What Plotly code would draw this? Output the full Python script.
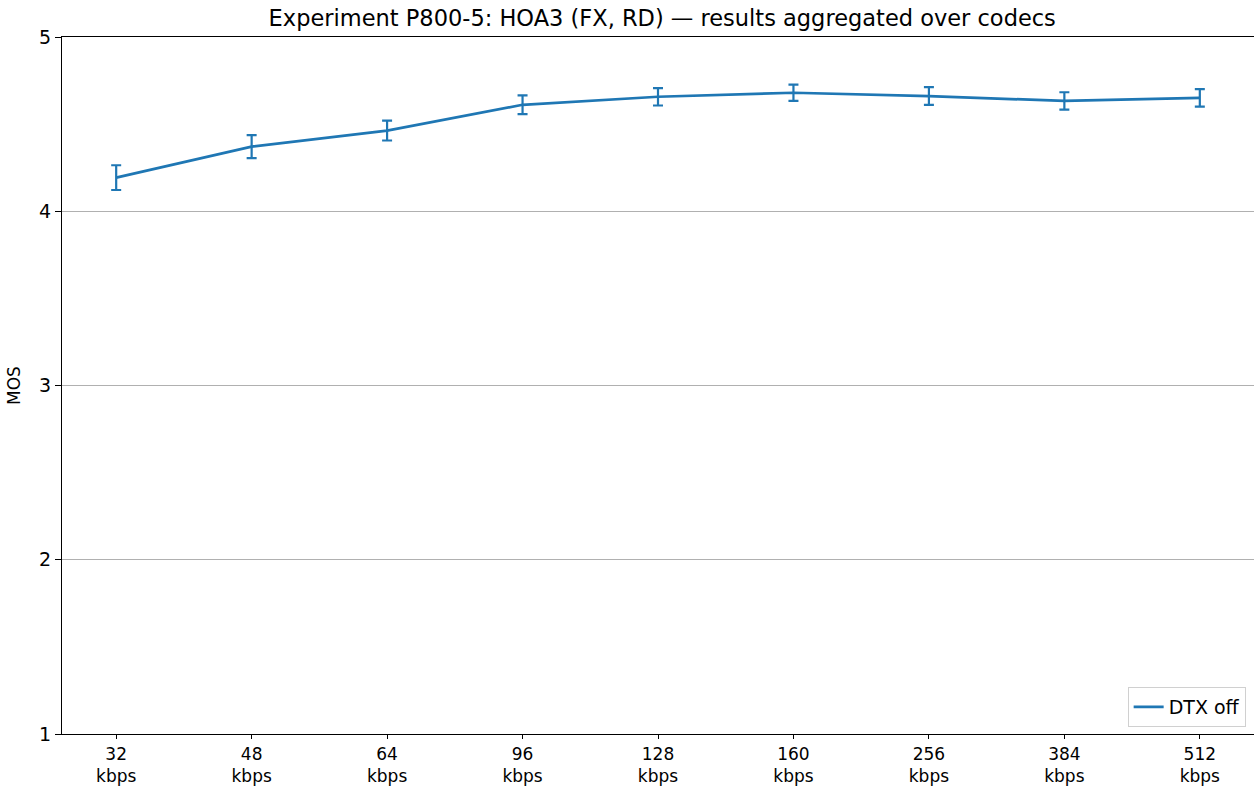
import plotly.graph_objects as go

bitrates = ["32", "48", "64", "96", "128", "160", "256", "384", "512"]
mos = [4.193, 4.371, 4.463, 4.611, 4.657, 4.680, 4.661, 4.633, 4.651]
ci95 = [0.071, 0.066, 0.057, 0.054, 0.050, 0.047, 0.051, 0.050, 0.050]
y_ticks = [1, 2, 3, 4, 5]

tick_labels = [f"{b}<br>kbps" for b in bitrates]
xpos = list(range(len(bitrates)))

BLUE = "#1f77b4"
FONT = "DejaVu Sans"

fig = go.Figure()
fig.add_trace(go.Scatter(
    x=xpos, y=mos, mode="lines", name="DTX off",
    line=dict(color=BLUE, width=2.7),
    error_y=dict(type="data", array=ci95, visible=True, color=BLUE, thickness=2.2, width=5),
))

fig.update_layout(
    width=1254, height=789,
    margin=dict(l=62, r=0, t=37, b=55),
    paper_bgcolor="white", plot_bgcolor="white",
    font=dict(family=FONT, size=18, color="black"),
    title=dict(text="Experiment P800-5: HOA3 (FX, RD) — results aggregated over codecs",
               x=0.5281, xanchor="center", y=0.977, yanchor="middle",
               font=dict(family=FONT, size=22.5, color="black")),
    showlegend=True,
    legend=dict(x=0.993, y=0.01, xanchor="right", yanchor="bottom",
                bgcolor="rgba(255,255,255,0.8)", bordercolor="#d0d0d0", borderwidth=1,
                font=dict(family=FONT, size=19)),
)
fig.update_xaxes(
    range=[-0.4, 8.4], tickvals=xpos, ticktext=tick_labels,
    showgrid=False, zeroline=False, automargin=False,
    showline=True, linecolor="black", linewidth=1.3, mirror=True,
    ticks="outside", ticklen=4, tickcolor="black", tickwidth=1.3,
    tickfont=dict(family=FONT, size=17),
)
fig.update_yaxes(
    range=[1, 5], tickvals=y_ticks, ticktext=[str(v) for v in y_ticks],
    showgrid=True, gridcolor="#b0b0b0", gridwidth=1, zeroline=False, automargin=False,
    showline=True, linecolor="black", linewidth=1.3,
    ticks="outside", ticklen=6, tickcolor="black", tickwidth=1.3,
    tickfont=dict(family=FONT, size=19),
    title=dict(text="MOS", font=dict(family=FONT, size=17), standoff=14),
)

fig.write_html("out.html")
